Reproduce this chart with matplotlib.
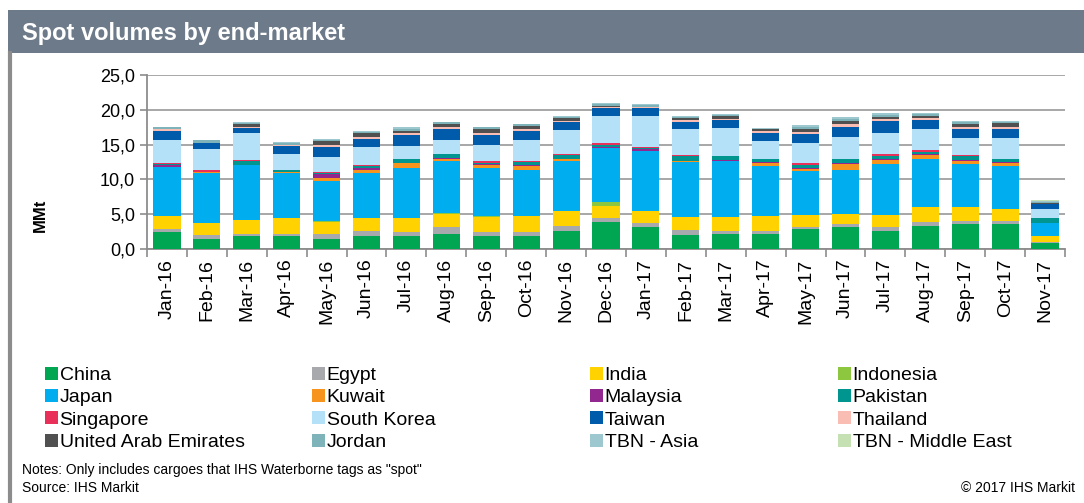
import matplotlib.pyplot as plt
import numpy as np
from matplotlib.patches import Patch, Rectangle
from matplotlib.lines import Line2D

months = ["Jan-16", "Feb-16", "Mar-16", "Apr-16", "May-16", "Jun-16", "Jul-16", "Aug-16",
          "Sep-16", "Oct-16", "Nov-16", "Dec-16", "Jan-17", "Feb-17", "Mar-17", "Apr-17",
          "May-17", "Jun-17", "Jul-17", "Aug-17", "Sep-17", "Oct-17", "Nov-17"]

# values in MMt (bottom of stack first)
china      = [2.5, 1.5, 1.8, 1.8, 1.5, 1.9, 1.8, 2.2, 1.8, 1.9, 2.6, 3.9, 3.2, 2.0, 2.2, 2.2, 2.9, 3.1, 2.6, 3.3, 3.6, 3.6, 0.8]
egypt      = [0.4, 0.5, 0.4, 0.4, 0.7, 0.7, 0.6, 0.9, 0.7, 0.6, 0.7, 0.5, 0.6, 0.7, 0.4, 0.4, 0.3, 0.5, 0.6, 0.6, 0.4, 0.4, 0.2]
india      = [1.8, 1.7, 2.0, 2.2, 1.7, 1.9, 2.0, 2.0, 2.1, 2.2, 2.1, 1.8, 1.6, 1.9, 2.0, 2.2, 1.7, 1.5, 1.7, 2.2, 2.1, 1.8, 0.9]
indonesia  = [0.1, 0.0, 0.0, 0.1, 0.1, 0.0, 0.1, 0.1, 0.1, 0.1, 0.1, 0.5, 0.1, 0.0, 0.0, 0.0, 0.0, 0.0, 0.0, 0.0, 0.0, 0.0, 0.0]
japan      = [7.0, 7.2, 7.8, 6.4, 5.8, 6.4, 7.2, 7.4, 6.9, 6.5, 7.1, 7.8, 8.6, 7.9, 8.0, 7.1, 6.3, 6.2, 7.3, 6.8, 6.1, 6.1, 1.9]
kuwait     = [0.0, 0.2, 0.0, 0.1, 0.4, 0.5, 0.6, 0.4, 0.5, 0.6, 0.3, 0.0, 0.0, 0.1, 0.1, 0.5, 0.3, 0.9, 0.6, 0.6, 0.4, 0.5, 0.0]
malaysia   = [0.3, 0.0, 0.1, 0.0, 0.6, 0.3, 0.1, 0.1, 0.1, 0.1, 0.1, 0.1, 0.3, 0.1, 0.1, 0.1, 0.1, 0.1, 0.1, 0.1, 0.2, 0.1, 0.0]
pakistan   = [0.1, 0.0, 0.5, 0.4, 0.1, 0.2, 0.5, 0.5, 0.1, 0.5, 0.5, 0.3, 0.1, 0.6, 0.5, 0.4, 0.5, 0.6, 0.4, 0.4, 0.5, 0.4, 0.6]
singapore  = [0.1, 0.2, 0.2, 0.0, 0.1, 0.1, 0.1, 0.1, 0.4, 0.1, 0.1, 0.4, 0.1, 0.2, 0.1, 0.0, 0.3, 0.1, 0.3, 0.2, 0.2, 0.1, 0.0]
s_korea    = [3.3, 3.1, 3.8, 2.3, 2.2, 2.7, 1.8, 1.9, 2.2, 3.1, 3.5, 3.8, 4.5, 3.7, 4.0, 2.6, 2.9, 3.1, 3.1, 3.0, 2.5, 2.9, 1.3]
taiwan     = [1.4, 0.8, 0.8, 1.1, 1.5, 1.1, 1.6, 1.6, 1.5, 1.3, 1.1, 1.2, 1.2, 1.1, 1.1, 1.1, 1.2, 1.5, 1.7, 1.4, 1.3, 1.4, 0.7]
thailand   = [0.2, 0.1, 0.2, 0.1, 0.3, 0.3, 0.2, 0.3, 0.3, 0.2, 0.2, 0.1, 0.1, 0.3, 0.2, 0.3, 0.3, 0.3, 0.3, 0.2, 0.3, 0.3, 0.1]
uae        = [0.1, 0.0, 0.3, 0.0, 0.5, 0.5, 0.4, 0.5, 0.5, 0.5, 0.4, 0.1, 0.0, 0.2, 0.4, 0.3, 0.5, 0.5, 0.3, 0.3, 0.4, 0.5, 0.1]
jordan     = [0.2, 0.3, 0.2, 0.3, 0.2, 0.2, 0.3, 0.2, 0.3, 0.2, 0.2, 0.3, 0.3, 0.2, 0.2, 0.1, 0.3, 0.3, 0.3, 0.3, 0.2, 0.2, 0.2]
tbn_asia   = [0.1, 0.1, 0.1, 0.2, 0.1, 0.1, 0.2, 0.1, 0.1, 0.1, 0.1, 0.2, 0.1, 0.1, 0.1, 0.1, 0.2, 0.2, 0.2, 0.2, 0.2, 0.1, 0.1]
tbn_me     = [0.0, 0.0, 0.0, 0.0, 0.0, 0.0, 0.0, 0.0, 0.0, 0.0, 0.0, 0.0, 0.0, 0.0, 0.0, 0.0, 0.0, 0.0, 0.0, 0.0, 0.0, 0.0, 0.2]

names = ["China", "Egypt", "India", "Indonesia", "Japan", "Kuwait", "Malaysia", "Pakistan",
         "Singapore", "South Korea", "Taiwan", "Thailand", "United Arab Emirates", "Jordan",
         "TBN - Asia", "TBN - Middle East"]
series = [china, egypt, india, indonesia, japan, kuwait, malaysia, pakistan,
          singapore, s_korea, taiwan, thailand, uae, jordan, tbn_asia, tbn_me]
colors = ["#00a651", "#a7a9ac", "#ffd200", "#8dc63f", "#00aeef", "#f7941d", "#92278f", "#00968f",
          "#e8305a", "#b5e1f8", "#005baa", "#f9bdb3", "#505050", "#7fb3ba", "#9ec8cf", "#c5e0b3"]

fig = plt.figure(figsize=(10.84, 5.03), dpi=100)
plt.rcParams['font.family'] = ['Liberation Sans', 'DejaVu Sans']

# header bar + left frame line
fig.patches.append(Rectangle((8/1084, 1-53/503), 1-8/1084, 43/503, transform=fig.transFigure,
                             facecolor="#6d7a89", edgecolor="none", zorder=0))
fig.lines.append(Line2D([10/1084, 10/1084], [0, 1-53/503], transform=fig.transFigure,
                        color="#8c8c8c", lw=3))
fig.text(22/1084, 1-33/503, "Spot volumes by end-market", color="white", fontsize=17,
         fontweight="bold", va="center", ha="left")

ax = fig.add_axes([147/1084, 1-249/503, (1065-147)/1084, (249-75)/503])
x = np.arange(len(months))
bottom = np.zeros(len(months))
handles = []
for name, vals, c in zip(names, series, colors):
    ax.bar(x, vals, bottom=bottom, width=0.68, color=c, label=name, zorder=3)
    bottom += np.array(vals)
    handles.append(Patch(facecolor=c, label=name))

ax.set_xlim(-0.5, len(months) - 0.5)
ax.set_ylim(0, 25)
ax.set_yticks([0, 5, 10, 15, 20, 25])
ax.set_yticklabels([f"{v:.1f}".replace(".", ",") for v in [0, 5, 10, 15, 20, 25]], fontsize=13)
ax.yaxis.grid(True, color="#a0a0a0", lw=1.3, zorder=0)
ax.set_xticks(x)
ax.set_xticklabels(months, rotation=90, fontsize=14)
ax.tick_params(axis="x", which="major", length=0, pad=7)
ax.set_xticks(np.arange(-0.5, len(months)), minor=True)
ax.tick_params(axis="x", which="minor", length=6, color="#8c8c8c", width=1.2)
ax.tick_params(axis="y", length=5, color="#8c8c8c", width=1.2)
for s in ["top", "right"]:
    ax.spines[s].set_visible(False)
for s in ["left", "bottom"]:
    ax.spines[s].set_color("#8c8c8c")
    ax.spines[s].set_linewidth(1.3)
fig.text(40/1084, 1-215/503, "MMt", rotation=90, fontsize=12, fontweight="bold",
         ha="center", va="center")

# legend, row-major in 4 columns
col_x = [45, 312, 590, 838]
for k in range(4):
    col = handles[k::4]
    fig.legend(handles=col, loc="upper left", bbox_to_anchor=(col_x[k]/1084, 1-367/503),
               frameon=False, fontsize=14, handlelength=0.65, handleheight=0.65,
               handletextpad=0.1, labelspacing=0.25, borderpad=0, borderaxespad=0)

fig.text(22/1084, 1-470/503, 'Notes: Only includes cargoes that IHS Waterborne tags as "spot"',
         fontsize=10, va="center")
fig.text(22/1084, 1-488/503, "Source: IHS Markit", fontsize=10, va="center")
fig.text(1075/1084, 1-488/503, "\u00a9 2017 IHS Markit", fontsize=10, va="center", ha="right")

fig.savefig("out.png", dpi=100)
